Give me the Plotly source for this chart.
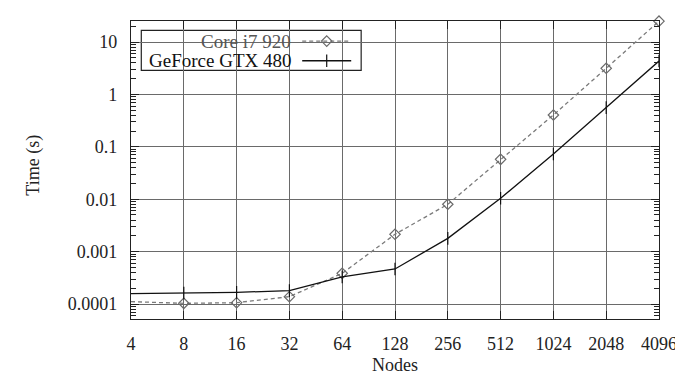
import plotly.graph_objects as go

nodes = [4, 8, 16, 32, 64, 128, 256, 512, 1024, 2048, 4096]
node_labels = [str(n) for n in nodes]
core_i7 = [1.11e-4, 1.03e-4, 1.06e-4, 1.38e-4, 3.85e-4, 2.14e-3, 8.0e-3, 0.0577, 0.405, 3.15, 25.0]
gtx480 = [1.58e-4, 1.62e-4, 1.67e-4, 1.80e-4, 3.3e-4, 4.66e-4, 1.79e-3, 0.0104, 0.073, 0.56, 4.34]
y_tickvals = [1e-4, 1e-3, 1e-2, 1e-1, 1, 10]
y_ticktext = ["0.0001", "0.001", "0.01", "0.1", "1", "10"]

FONT = "Liberation Serif"
W, H = 683, 376
ML, MR, MT, MB = 122.7, 32, 12.7, 65.3
PW, PH = W - ML - MR, H - MT - MB

def px(x):
    return (x - ML) / PW

def py(y):
    return (H - MB - y) / PH

minor_vals = [k * 10.0 ** d for d in range(-5, 2) for k in range(2, 10)]

fig = go.Figure()
fig.add_trace(go.Scatter(
    x=nodes, y=core_i7, name=" ", mode="lines+markers", cliponaxis=False,
    line=dict(color="#7a7a7a", width=1.3, dash="4px,3px"),
    marker=dict(symbol="diamond-open", size=8, color="#6a6a6a", line=dict(width=1.2)),
))
fig.add_trace(go.Scatter(
    x=nodes, y=gtx480, name=" ", mode="lines+markers", cliponaxis=False,
    line=dict(color="#111111", width=1.3),
    marker=dict(symbol="line-ns", size=9, color="#111111", line=dict(width=1.2, color="#111111")),
))

axis_common = dict(
    showline=True, linecolor="#222", linewidth=1.3, mirror="allticks",
    ticks="inside", tickcolor="#222", tickwidth=1.2,
    showgrid=True, gridcolor="#6a6a6a", gridwidth=1, zeroline=False,
    tickfont=dict(family=FONT, size=18, color="#222"),
)

fig.update_xaxes(
    type="log", range=[0.60206, 3.61236], tickvals=nodes, ticktext=node_labels,
    ticklen=8, ticklabelstandoff=8,
    title=dict(text="Nodes", font=dict(family=FONT, size=18, color="#222"), standoff=5),
    **axis_common,
)
fig.update_yaxes(
    type="log", range=[-4.286, 1.401], tickvals=y_tickvals, ticktext=y_ticktext,
    ticklen=8, ticklabelstandoff=9,
    minor=dict(ticks="inside", ticklen=5, tickvals=minor_vals, tickcolor="#222", showgrid=False),
    **axis_common,
)

# y-axis title
fig.add_annotation(text="Time (s)", xref="paper", yref="paper", x=px(25), y=py(157),
                   xanchor="center", yanchor="middle", textangle=-90, showarrow=False,
                   font=dict(family=FONT, size=18, color="#222"))

# legend box and labels
fig.add_shape(type="rect", xref="paper", yref="paper",
              x0=px(133), x1=px(353), y0=py(62), y1=py(22),
              line=dict(color="#222", width=1.2), fillcolor="white", layer="between")
fig.add_annotation(text="Core i7 920", xref="paper", yref="paper", x=px(285), y=py(32.7),
                   xanchor="right", yanchor="middle", showarrow=False,
                   font=dict(family=FONT, size=19, color="#555"))
fig.add_annotation(text="GeForce GTX 480", xref="paper", yref="paper", x=px(285), y=py(52.3),
                   xanchor="right", yanchor="middle", showarrow=False,
                   font=dict(family=FONT, size=19, color="#111"))

fig.update_layout(
    width=W, height=H,
    margin=dict(l=ML, r=MR, t=MT, b=MB),
    paper_bgcolor="white", plot_bgcolor="white",
    showlegend=True,
    legend=dict(x=px(289), y=py(18), xanchor="left", yanchor="top",
                bgcolor="rgba(0,0,0,0)", borderwidth=0, itemwidth=49,
                font=dict(family=FONT, size=12.8), tracegroupgap=0),
)

fig.write_html("out.html")
